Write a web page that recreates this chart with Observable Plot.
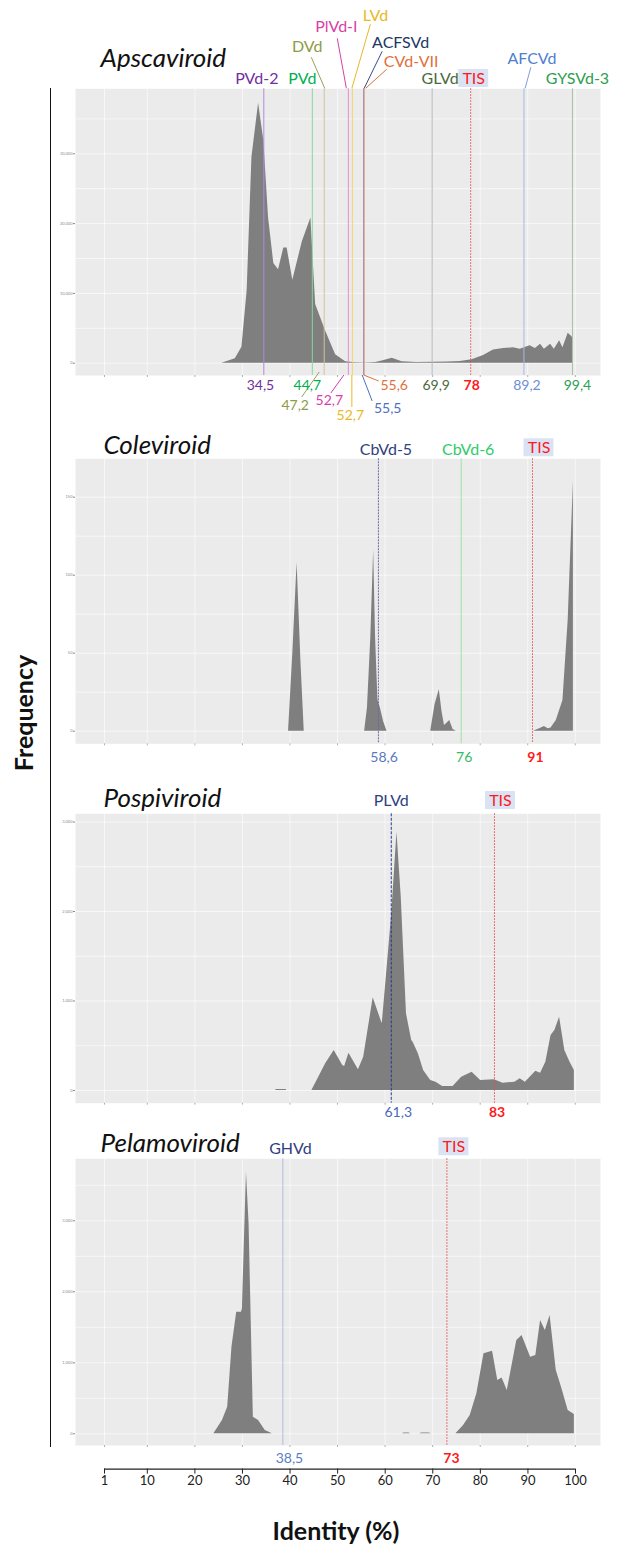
<!DOCTYPE html>
<html><head><meta charset="utf-8">
<script src="https://cdn.jsdelivr.net/npm/d3@7"></script>
<script src="https://cdn.jsdelivr.net/npm/@observablehq/plot@0.6"></script>
<style>
body{margin:0;background:#fff;font-family:Lato,"Open Sans",sans-serif;}
#wrap{position:relative;width:619px;height:1545px;overflow:hidden;background:#fff;}
#wrap svg{position:absolute;left:0;}
.vline{position:absolute;left:50px;top:88px;width:1.3px;height:1359px;background:#111;}
.ylab{position:absolute;left:23px;top:713px;transform:translate(-50%,-50%) rotate(-90deg);font:bold 25px/1 Lato,sans-serif;color:#111;white-space:nowrap;}
.xlab{position:absolute;left:336px;top:1530px;transform:translate(-50%,-50%);font:bold 25px/1 Lato,sans-serif;color:#111;white-space:nowrap;}
</style></head><body><div id="wrap"></div>
<script>
// ---------------- DATA ----------------
const axisTicks = [1,10,20,30,40,50,60,70,80,90,100];

// Apscaviroid
const apscaIdentity = [25.7,28.5,29.9,31.0,32.0,33.4,34.5,35.5,36.6,37.6,38.7,39.4,40.6,42.6,44.4,45.4,47.5,49.6,51.7,53.8,55.9,58.0,59.4,61.5,63.6,66.7,70,73,75.8,78.3,80.7,82.8,84.9,87.0,88.4,90.5,91.6,92.7,93.5,94.8,95.6,96.7,97.4,98.5,99.3,99.5];
const apscaFreq = [0,630,2290,10400,29500,37250,31900,20800,14300,13400,16500,16500,11900,17400,20800,8400,4600,1200,200,50,30,100,300,700,200,100,120,180,250,500,1100,1900,2100,2200,2000,2500,2100,2700,2000,2700,2000,3200,2200,4300,3800,3500];
const apscaYTicks = [0,10000,20000,30000];
const apscaNames = ["PVd-2","PVd","DVd","PlVd-I","LVd","ACFSVd","CVd-VII","GLVd","TIS","AFCVd","GYSVd-3"];
const apscaValues = [34.5,44.7,47.2,52.7,52.7,55.5,55.6,69.9,78,89.2,99.4];
const apscaValueText = ["34,5","44,7","47,2","52,7","52,7","55,5","55,6","69,9","78","89,2","99,4"];

// Coleviroid
const coleIdentity = [39.7,40.6,41.5,42.3,43.0,55.7,56.3,57.0,57.6,58.0,58.5,59.0,59.7,60.4,69.6,70.5,71.4,72.0,72.5,73.0,73.6,74.3,75.0,91.2,92.5,93.5,94.3,94.9,96.0,97.4,98.5,99.6];
const coleFreq = [0,50,108,45,0,0,15,60,116,60,20,15,6,0,0,17,26.5,12,3.6,5,6.8,1,0,0,1.5,3,1.5,2,6.8,19.7,71,160];
const coleYTicks = [0,50,100,150];
const coleNames = ["CbVd-5","CbVd-6","TIS"];
const coleValues = [58.6,76,91];
const coleValueText = ["58,6","76","91"];

// Pospiviroid
const pospIdentity = [37.0,37.1,39.2,39.3,44.6,45.7,47.5,49.3,51.1,51.5,52.4,54.4,55.5,57.5,59.4,60.2,61.4,62.5,63.4,64.5,65.6,65.9,67.0,68.1,69.6,70.7,72.1,74.3,76.1,78.3,80.1,83.0,84.8,87.3,88.4,89.5,91.7,92.7,93.8,94.9,95.7,96.7,97.8,98.9,99.8];
const pospFreq = [0,12,12,0,0,112,298,447,279,268,417,231,372,1035,745,1229,1974,2886,2160,857,559,540,410,223,112,93,45,45,149,205,112,119,82,93,130,93,216,194,317,615,670,819,447,317,223];
const pospYTicks = [0,1000,2000,3000];
const pospNames = ["PLVd","TIS"];
const pospValues = [61.3,83];
const pospValueText = ["61,3","83"];

// Pelamoviroid
const pelaIdentity = [24.0,25.8,26.9,27.8,28.8,29.8,30.0,30.85,31.4,32.3,33.4,34.8,36.3,63.6,64.0,65.0,65.4,67.3,67.7,69.3,69.7,74.9,76.5,77.9,79.3,80.8,82.6,83.7,84.6,85.7,87.7,88.8,90.6,91.7,92.7,93.7,94.7,96.0,97.1,98.5,99.8];
const pelaFreq = [0,188,375,1220,1713,1713,1760,3685,2957,234,188,47,0,0,12,12,0,0,12,12,0,0,117,258,563,1127,1164,751,785,610,1314,1385,1079,1103,1596,1455,1666,892,657,329,272];
const pelaYTicks = [0,1000,2000,3000];
const pelaNames = ["GHVd","TIS"];
const pelaValues = [38.5,73];
const pelaValueText = ["38,5","73"];

// ---------------- LAYOUT / STYLE ----------------
const FONT = "Lato, 'Open Sans', sans-serif";
const RED = "#ff1a1a";
const xDomain = [-5.1, 105.3];

const panels = [
  { title: "Apscaviroid", top: 0, height: 430, mt: 88.3, mb: 55, yDomain: [-1762, 39312], yTicks: apscaYTicks, yGridStep: 5000,
    identity: apscaIdentity, freq: apscaFreq, names: apscaNames, values: apscaValues, valueText: apscaValueText,
    titleOff: [25, -30.3],
    lineStyle: [
      {stroke:"#b48ad4"}, {stroke:"#8ed39a"}, {stroke:"#cfc49a"}, {stroke:"#de8fcf", dx:-2}, {stroke:"#f2d36b", dx:2},
      {stroke:"#8f77b8"}, {stroke:"#d9a07f"}, {stroke:"#b0b7c4"}, {stroke:"#e84a4a", dash:"1.5,1.5"}, {stroke:"#a9b9d9"}, {stroke:"#a4c2ac"}],
    nameStyle: [
      {fill:"#7030a0", dx:-7, dy:-10.3}, {fill:"#00b050", dx:-10, dy:-10.3}, {fill:"#8e9b45", dx:-17, dy:-42.3},
      {fill:"#d63fa8", dx:-14, dy:-62.3}, {fill:"#e8b923", dx:25, dy:-73.3}, {fill:"#203864", dx:37, dy:-46.3},
      {fill:"#e2703a", dx:47, dy:-27.3}, {fill:"#4a6a3a", dx:8, dy:-10.3}, {fill:RED, dx:3, dy:-10.3, box:true},
      {fill:"#4f7fd0", dx:8, dy:-30.3}, {fill:"#2e9e50", dx:5, dy:-10.3}],
    valueStyle: [
      {fill:"#7030a0", dx:-3.4, dy:10}, {fill:"#00b050", dx:-5, dy:10}, {fill:"#8e9b45", dx:-29, dy:30},
      {fill:"#d63fa8", dx:-21, dy:25}, {fill:"#e8b923", dx:0, dy:40}, {fill:"#4f70c0", dx:24, dy:33},
      {fill:"#e2703a", dx:30, dy:10}, {fill:"#4a6a3a", dx:4, dy:10}, {fill:RED, dx:1, dy:10, bold:true},
      {fill:"#6c8fd6", dx:3, dy:10}, {fill:"#2e9e50", dx:5, dy:10}],
    leaders: [
      {i:2, edge:"top", x1:-12.4, y1:-31, x2:1, y2:0, stroke:"#9aa05a"},
      {i:3, edge:"top", x1:-12.6, y1:-50, x2:-3.5, y2:0, stroke:"#d63fa8"},
      {i:4, edge:"top", x1:20.5, y1:-64, x2:2, y2:0, stroke:"#e8b923"},
      {i:5, edge:"top", x1:19, y1:-37, x2:1, y2:0, stroke:"#3a4a8a"},
      {i:6, edge:"top", x1:23, y1:-19, x2:2, y2:0, stroke:"#e2703a"},
      {i:9, edge:"top", x1:7.4, y1:-21, x2:1.7, y2:0, stroke:"#7f9fd8"},
      {i:2, edge:"bottom", x1:-4.5, y1:-3, x2:-22, y2:22, stroke:"#9aa05a"},
      {i:3, edge:"bottom", x1:-6, y1:0, x2:-19, y2:18, stroke:"#d63fa8"},
      {i:4, edge:"bottom", x1:2, y1:0, x2:2, y2:32, stroke:"#e8b923"},
      {i:5, edge:"bottom", x1:-1, y1:0, x2:9, y2:26, stroke:"#4f70c0"},
      {i:6, edge:"bottom", x1:0, y1:0, x2:15, y2:6, stroke:"#e2703a"}]
  },
  { title: "Coleviroid", top: 420, height: 360, mt: 38.3, mb: 36.7, yDomain: [-8.1, 174.6], yTicks: coleYTicks, yGridStep: 25,
    identity: coleIdentity, freq: coleFreq, names: coleNames, values: coleValues, valueText: coleValueText,
    titleOff: [28, -13.3],
    lineStyle: [{stroke:"#6a6aa8", dash:"2,1"}, {stroke:"#9ee0a8"}, {stroke:"#e84a4a", dash:"1.5,1.5"}],
    nameStyle: [{fill:"#2f3f80", dx:7.5, dy:-9.3}, {fill:"#2ecc6a", dx:7, dy:-9.3}, {fill:RED, dx:6.5, dy:-11, box:true}],
    valueStyle: [{fill:"#5a78c0", dx:5.7, dy:13.4}, {fill:"#33bb66", dx:3, dy:13.4}, {fill:RED, dx:3, dy:13.4, bold:true}],
    leaders: []
  },
  { title: "Pospiviroid", top: 780, height: 350, mt: 33.3, mb: 27.3, yDomain: [-142, 3092], yTicks: pospYTicks, yGridStep: 500,
    identity: pospIdentity, freq: pospFreq, names: pospNames, values: pospValues, valueText: pospValueText,
    titleOff: [28, -15.3],
    lineStyle: [{stroke:"#2a3a8a", dash:"3,1.5"}, {stroke:"#e84a4a", dash:"1.5,1.5"}],
    nameStyle: [{fill:"#2f3f80", dx:0, dy:-12.6}, {fill:RED, dx:6, dy:-13.3, box:true}],
    valueStyle: [{fill:"#4a6ab8", dx:7, dy:9}, {fill:RED, dx:2.6, dy:9, bold:true}],
    leaders: []
  },
  { title: "Pelamoviroid", top: 1130, height: 335, mt: 28.3, mb: 20, yDomain: [-165, 3873], yTicks: pelaYTicks, yGridStep: 500,
    identity: pelaIdentity, freq: pelaFreq, names: pelaNames, values: pelaValues, valueText: pelaValueText,
    titleOff: [25, -15.3],
    lineStyle: [{stroke:"#b0bcd8"}, {stroke:"#e84a4a", dash:"1.5,1.5"}],
    nameStyle: [{fill:"#2f3f80", dx:7.6, dy:-10.3}, {fill:RED, dx:7, dy:-12, box:true}],
    valueStyle: [{fill:"#5a7ec4", dx:6.6, dy:13.3}, {fill:RED, dx:4.5, dy:13.3, bold:true}],
    leaders: []
  }
];

const wrap = document.getElementById("wrap");

function buildPanel(p) {
  const data = p.identity.map((v, i) => ({v, f: p.freq[i]}));
  const yGrid = d3.range(0, p.yDomain[1], p.yGridStep);
  const marks = [
    Plot.frame({fill: "#ebebeb", stroke: null}),
    Plot.ruleY(yGrid, {stroke: "#fff", strokeWidth: 0.7, strokeOpacity: 0.85}),
    Plot.ruleX(axisTicks, {stroke: "#fff", strokeWidth: 0.7, strokeOpacity: 0.85}),
    Plot.areaY(data, {x: "v", y: "f", fill: "#7f7f7f"}),
    Plot.axisY({ticks: p.yTicks, tickSize: 2, tickPadding: 1, fontSize: 4, color: "#8a8a8a", label: null}),
    Plot.axisX({ticks: axisTicks, tickSize: 2, tickFormat: () => "", color: "#b0b0b0", label: null})
  ];
  p.values.forEach((val, i) => {
    const st = p.lineStyle[i];
    marks.push(Plot.ruleX([val], {stroke: st.stroke, strokeWidth: 1, strokeDasharray: st.dash, dx: st.dx || 0}));
  });
  // leader lines and TIS boxes, positioned through the x scale
  marks.push((index, scales, values, dims) => {
    const g = d3.create("svg:g");
    const top = dims.marginTop, bottom = dims.height - dims.marginBottom;
    p.leaders.forEach(l => {
      const x0 = scales.x(p.values[l.i]);
      const yb = l.edge === "top" ? top : bottom;
      g.append("line").attr("x1", x0 + l.x1).attr("y1", yb + l.y1).attr("x2", x0 + l.x2).attr("y2", yb + l.y2)
        .attr("stroke", l.stroke).attr("stroke-width", 1);
    });
    p.nameStyle.forEach((st, i) => {
      if (!st.box) return;
      const cx = scales.x(p.values[i]) + st.dx, cy = top + st.dy;
      g.append("rect").attr("x", cx - 15).attr("y", cy - 9).attr("width", 30).attr("height", 18).attr("fill", "#dae3f3");
    });
    return g.node();
  });
  p.names.forEach((name, i) => {
    const st = p.nameStyle[i];
    marks.push(Plot.text([p.values[i]], {x: d => d, text: () => name, frameAnchor: "top", lineAnchor: "middle",
      dx: st.dx, dy: st.dy, fill: st.fill, fontSize: 16, fontFamily: FONT}));
  });
  p.valueText.forEach((t, i) => {
    const st = p.valueStyle[i];
    marks.push(Plot.text([p.values[i]], {x: d => d, text: () => t, frameAnchor: "bottom", lineAnchor: "middle",
      dx: st.dx, dy: st.dy, fill: st.fill, fontSize: 14, fontWeight: st.bold ? "bold" : "normal", fontFamily: FONT}));
  });
  marks.push(Plot.text([p.title], {frameAnchor: "top-left", textAnchor: "start", lineAnchor: "middle",
    dx: p.titleOff[0], dy: p.titleOff[1], fontSize: 26, fontStyle: "italic", fill: "#111", fontFamily: FONT}));

  const svg = Plot.plot({
    width: 619, height: p.height,
    marginLeft: 75, marginRight: 19, marginTop: p.mt, marginBottom: p.mb,
    style: {background: "transparent", overflow: "visible", fontFamily: FONT},
    x: {domain: xDomain},
    y: {domain: p.yDomain},
    marks
  });
  svg.style.top = p.top + "px";
  wrap.appendChild(svg);
}

panels.forEach(buildPanel);

// bottom shared axis
const axisSvg = Plot.plot({
  width: 619, height: 70, marginLeft: 104, marginRight: 44, marginTop: 13.6, marginBottom: 56.4,
  style: {background: "transparent", overflow: "visible", fontFamily: FONT},
  x: {domain: [axisTicks[0], axisTicks[axisTicks.length - 1]]},
  y: {domain: [0, 1], axis: null},
  marks: [
    Plot.ruleY([0], {x1: axisTicks[0], x2: axisTicks[axisTicks.length - 1], stroke: "#222", strokeWidth: 1.2}),
    Plot.axisX({ticks: axisTicks, tickSize: 5, tickPadding: 2, fontSize: 13, color: "#222", label: null})
  ]
});
axisSvg.style.top = "1455px";
wrap.appendChild(axisSvg);

const vl = document.createElement("div"); vl.className = "vline"; wrap.appendChild(vl);
const yl = document.createElement("div"); yl.className = "ylab"; yl.textContent = "Frequency"; wrap.appendChild(yl);
const xl = document.createElement("div"); xl.className = "xlab"; xl.textContent = "Identity (%)"; wrap.appendChild(xl);
</script>
</body></html>
